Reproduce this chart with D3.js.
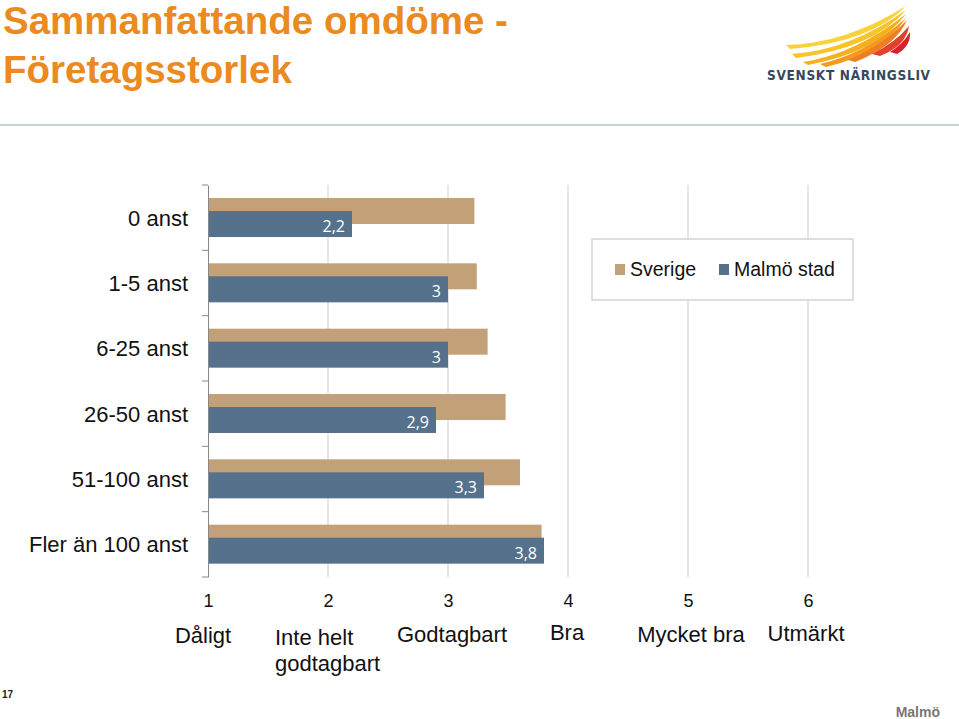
<!DOCTYPE html>
<html>
<head>
<meta charset="utf-8">
<script src="https://cdn.jsdelivr.net/npm/d3@7"></script>
<style>
  body { margin: 0; background: #fff; }
  svg { display: block; }
</style>
</head>
<body>
<script>
// data
var categories = ["0 anst", "1-5 anst", "6-25 anst", "26-50 anst", "51-100 anst", "Fler än 100 anst"];
var sverige = [3.22, 3.24, 3.33, 3.48, 3.6, 3.78];
var malmo = [2.2, 3, 3, 2.9, 3.3, 3.8];
var ticks = [1, 2, 3, 4, 5, 6];
var tickWords = [["Dåligt"], ["Inte helt", "godtagbart"], ["Godtagbart"], ["Bra"], ["Mycket bra"], ["Utmärkt"]];
var seriesNames = ["Sverige", "Malmö stad"];
var colors = ["#c2a179", "#56718b"];

var Width = 959, Height = 719;
var font = "Liberation Sans, Arial, sans-serif";

var svg = d3.select("body").append("svg")
	.attr("width", Width)
	.attr("height", Height);

// title
var title = svg.append("text")
	.attr("font-family", font)
	.attr("font-weight", "bold")
	.attr("font-size", 38.5)
	.attr("fill", "#ea8a1f");
title.append("tspan").attr("x", 3).attr("y", 34).text("Sammanfattande omdöme -");
title.append("tspan").attr("x", 3).attr("y", 83).text("Företagsstorlek");

// separator
svg.append("rect").attr("x", 0).attr("y", 124).attr("width", Width).attr("height", 2).attr("fill", "#c5d0d8");

// logo
var logo = svg.append("g");
var wings = [
	["#f9d23a", "M786,45 Q845,44 906,6 Q872,42 790,49 Z"],
	["#f8c42a", "M792,54 Q850,50 906,10 Q874,48 796,58 Z"],
	["#f6b01f", "M803,62 Q855,54 906,14 Q878,52 808,65 Z"],
	["#f39a1e", "M820,64 Q865,54 906,18 Q882,54 826,67 Z"],
	["#ef7d22", "M848,60 Q882,46 907,20 Q896,46 855,62 Z"],
	["#e3412b", "M872,54 Q896,42 909,26 Q906,46 880,56 Z"],
	["#d3242e", "M890,52 Q903,44 910,32 Q911,46 897,54 Z"]
];
logo.selectAll("path").data(wings).join("path")
	.attr("d", function(d) { return d[1]; })
	.attr("fill", function(d) { return d[0]; });
logo.append("text")
	.attr("x", 767).attr("y", 80)
	.attr("font-family", "DejaVu Sans Condensed, Liberation Sans Narrow, sans-serif")
	.attr("font-weight", "bold")
	.attr("font-size", 13.5)
	.attr("textLength", 163)
	.attr("fill", "#34495e")
	.text("SVENSKT NÄRINGSLIV");

// scales
var x = d3.scaleLinear().domain([1, 6]).range([208, 808]);
var y = d3.scaleBand().domain(categories).range([185, 577]);

// gridlines
svg.append("g").selectAll("line").data(ticks.slice(1)).join("line")
	.attr("x1", function(d) { return x(d); })
	.attr("x2", function(d) { return x(d); })
	.attr("y1", 185).attr("y2", 577)
	.attr("stroke", "#cfcfcf").attr("stroke-width", 1);

// bars
var barH = 26, off = 13;
var rows = categories.map(function(c, i) { return { cat: c, s: sverige[i], m: malmo[i] }; });

svg.append("g").selectAll("rect").data(rows).join("rect")
	.attr("x", x(1))
	.attr("y", function(d) { return y(d.cat) + 13; })
	.attr("width", function(d) { return x(d.s) - x(1); })
	.attr("height", barH)
	.attr("fill", colors[0]);

svg.append("g").selectAll("rect").data(rows).join("rect")
	.attr("x", x(1))
	.attr("y", function(d) { return y(d.cat) + 13 + off; })
	.attr("width", function(d) { return x(d.m) - x(1); })
	.attr("height", barH)
	.attr("fill", colors[1]);

svg.append("g").selectAll("text").data(rows).join("text")
	.attr("x", function(d) { return x(d.m) - 7; })
	.attr("y", function(d) { return y(d.cat) + 13 + off + barH - 5; })
	.attr("text-anchor", "end")
	.attr("font-family", "Open Sans, sans-serif")
	.attr("font-size", 16)
	.attr("fill", "#fff")
	.text(function(d) { return String(d.m).replace(".", ","); });

// y axis
var yAxis = svg.append("g").attr("transform", "translate(208,0)")
	.call(d3.axisLeft(y).tickSize(0).tickFormat(""));
yAxis.select(".domain").attr("stroke", "#888");
svg.append("g").selectAll("line").data(d3.range(categories.length + 1)).join("line")
	.attr("x1", 202).attr("x2", 208)
	.attr("y1", function(i) { return 185 + i * y.step(); })
	.attr("y2", function(i) { return 185 + i * y.step(); })
	.attr("stroke", "#888");
svg.append("g").selectAll("text").data(categories).join("text")
	.attr("x", 188)
	.attr("y", function(d) { return y(d) + y.bandwidth() / 2 + 8; })
	.attr("text-anchor", "end")
	.attr("font-family", font)
	.attr("font-size", 22)
	.attr("fill", "#111")
	.text(function(d) { return d; });

// x ticks
var xAxis = svg.append("g").attr("transform", "translate(0,577)")
	.call(d3.axisBottom(x).tickValues(ticks).tickSize(0).tickPadding(17).tickFormat(d3.format("d")));
xAxis.select(".domain").remove();
xAxis.selectAll("text")
	.attr("font-family", font)
	.attr("font-size", 18)
	.attr("fill", "#111");

var wordX = [203, 275, 452, 567, 691, 806];
var wordY = [643, 645, 642, 640, 642, 641];
var words = svg.append("g").selectAll("text").data(tickWords).join("text")
	.attr("font-family", font)
	.attr("font-size", 22)
	.attr("fill", "#111")
	.attr("text-anchor", function(d, i) { return i == 1 ? "start" : "middle"; });
words.each(function(lines, i) {
	var t = d3.select(this);
	lines.forEach(function(l, j) {
		t.append("tspan").attr("x", wordX[i]).attr("y", wordY[i] + j * 26).text(l);
	});
});

// legend
var lg = svg.append("g").attr("transform", "translate(592,239)");
lg.append("rect").attr("width", 261).attr("height", 61)
	.attr("fill", "#fff").attr("stroke", "#d3d3d3").attr("stroke-width", 1.5);
var items = lg.selectAll("g").data(seriesNames).join("g")
	.attr("transform", function(d, i) { return "translate(" + (23 + i * 104) + ",0)"; });
items.append("rect").attr("y", 25).attr("width", 10).attr("height", 11)
	.attr("fill", function(d, i) { return colors[i]; });
items.append("text").attr("x", 15).attr("y", 37)
	.attr("font-family", font)
	.attr("font-size", 19.5)
	.attr("fill", "#111")
	.text(function(d) { return d; });

// footer
svg.append("text").attr("x", 2).attr("y", 698)
	.attr("font-family", font).attr("font-weight", "bold")
	.attr("font-size", 10).attr("fill", "#222").text("17");
svg.append("text").attr("x", 940).attr("y", 717).attr("text-anchor", "end")
	.attr("font-family", font).attr("font-weight", "bold")
	.attr("font-size", 14).attr("fill", "#777").text("Malmö");
</script>
</body>
</html>
